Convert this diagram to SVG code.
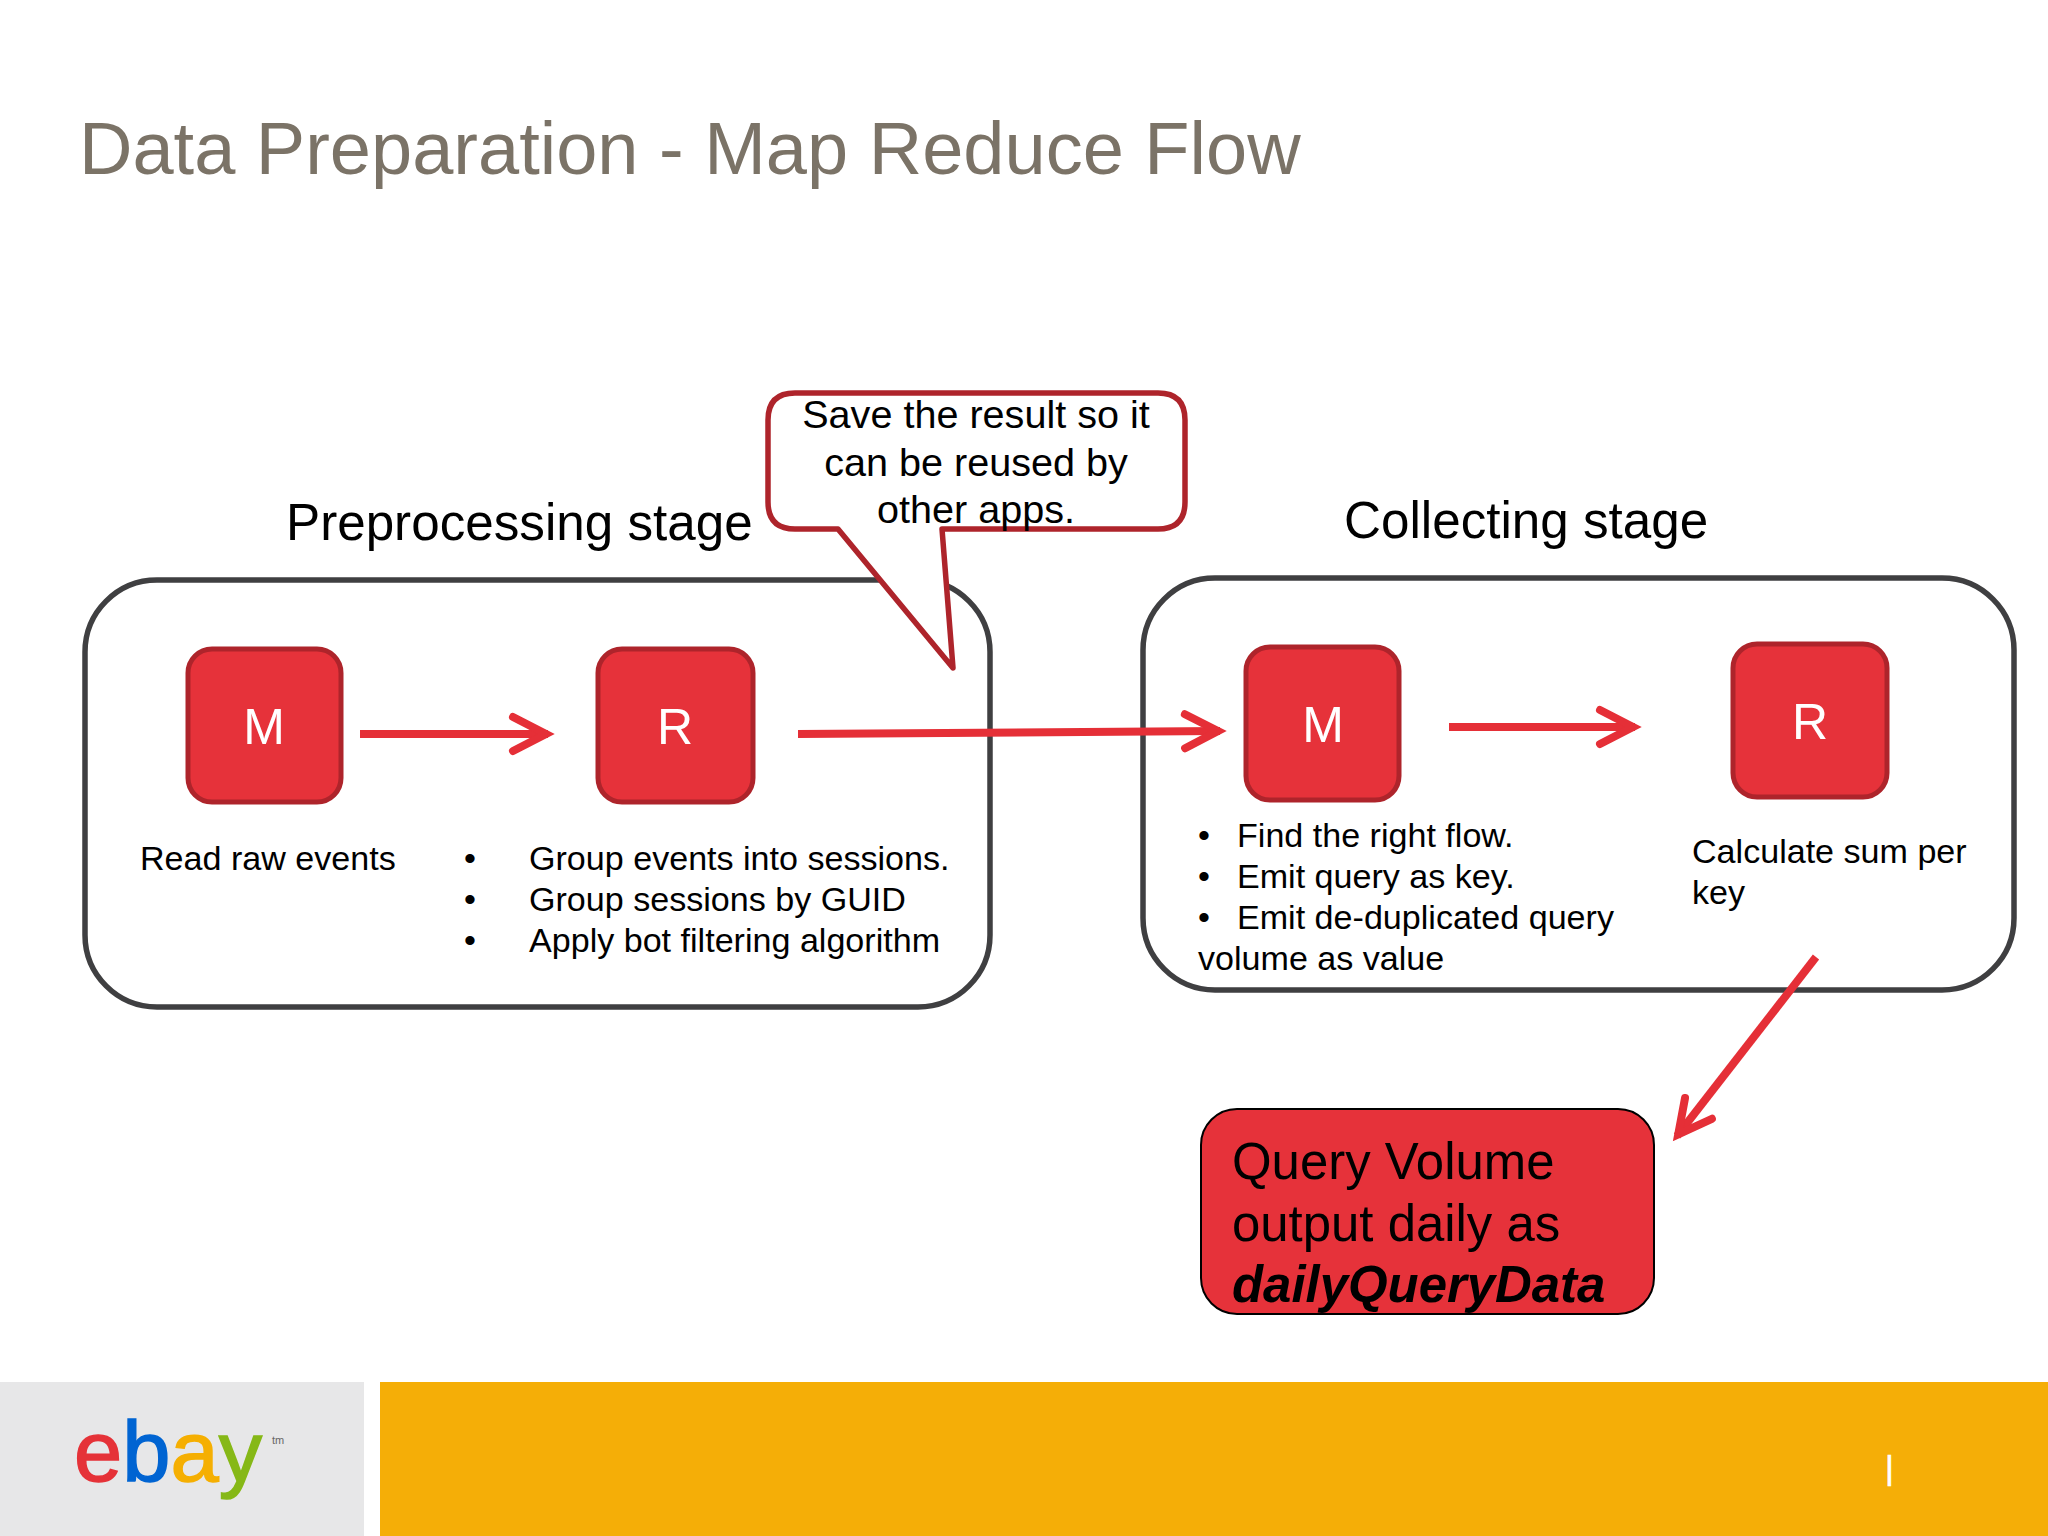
<svg xmlns="http://www.w3.org/2000/svg" width="2048" height="1536" viewBox="0 0 2048 1536">
<defs>
<style>
text{font-family:"Liberation Sans",Arial,sans-serif;fill:#000}
.stage{fill:#fff;stroke:#3f3f41;stroke-width:5.5}
.mr{fill:#e6323a;stroke:#ae242b;stroke-width:5}
.mrt{fill:#fff;font-size:50px;text-anchor:middle}
.s{font-size:34.1px}
.h{font-size:51.2px}
.c{font-size:39.6px;text-anchor:middle}
.q{font-size:50.9px}
.a{fill:none;stroke:#e52f37;stroke-width:8}
.ah{fill:none;stroke:#e52f37;stroke-width:8;stroke-linecap:round}
.logo{font-size:85px;stroke-width:1.5}
</style>
<marker id="head" markerUnits="userSpaceOnUse" viewBox="-50 -25 70 50" refX="-3" refY="0" markerWidth="70" markerHeight="50" orient="auto">
<path class="ah" d="M-38,-17 L-5,0 L-38,17"/>
</marker>
</defs>
<rect width="2048" height="1536" fill="#fff"/>
<text id="title" x="79" y="174" font-size="74" style="fill:#7b7367">Data Preparation - Map Reduce Flow</text>

<g id="preprocessing-box"><rect class="stage" x="85" y="580" width="905" height="427" rx="72"/></g>
<g id="collecting-box"><rect class="stage" x="1143" y="578" width="871" height="412" rx="72"/></g>

<g id="preprocessing-label"><text class="h" x="286" y="540">Preprocessing stage</text></g>
<g id="collecting-label"><text class="h" x="1344" y="538">Collecting stage</text></g>

<g id="callout">
<path d="M795,393 H1158 Q1185,393 1185,420 V502 Q1185,529 1158,529 H942 L953,668 L838,529 H795 Q768,529 768,502 V420 Q768,393 795,393 Z" fill="#fff" stroke="#ae242b" stroke-width="5.5" stroke-linejoin="round"/>
<text class="c" x="976" y="428">Save the result so it</text>
<text class="c" x="976" y="476">can be reused by</text>
<text class="c" x="976" y="523">other apps.</text>
</g>

<g id="m1"><rect class="mr" x="188" y="649" width="153" height="153" rx="24"/><text class="mrt" x="264" y="744">M</text></g>
<g id="r1"><rect class="mr" x="598" y="649" width="155" height="153" rx="24"/><text class="mrt" x="675" y="744">R</text></g>
<g id="m2"><rect class="mr" x="1246" y="647" width="153" height="153" rx="24"/><text class="mrt" x="1323" y="742">M</text></g>
<g id="r2"><rect class="mr" x="1733" y="644" width="154" height="153" rx="24"/><text class="mrt" x="1810" y="739">R</text></g>

<g id="connectors">
<path class="a" d="M360,734 H548" marker-end="url(#head)"/>
<path class="a" d="M798,734 L1220,731" marker-end="url(#head)"/>
<path class="a" d="M1449,727 H1635" marker-end="url(#head)"/>
<path class="a" d="M1816,957 L1677,1136" marker-end="url(#head)"/>
</g>

<g id="m1-text"><text class="s" x="140" y="870">Read raw events</text></g>
<g id="r1-text">
<text class="s" x="464" y="870">•</text><text class="s" x="529" y="870">Group events into sessions.</text>
<text class="s" x="464" y="911">•</text><text class="s" x="529" y="911">Group sessions by GUID</text>
<text class="s" x="464" y="952">•</text><text class="s" x="529" y="952">Apply bot filtering algorithm</text>
</g>
<g id="m2-text">
<text class="s" x="1198" y="847">•</text><text class="s" x="1237" y="847">Find the right flow.</text>
<text class="s" x="1198" y="888">•</text><text class="s" x="1237" y="888">Emit query as key.</text>
<text class="s" x="1198" y="929">•</text><text class="s" x="1237" y="929">Emit de-duplicated query</text>
<text class="s" x="1198" y="970">volume as value</text>
</g>
<g id="r2-text">
<text class="s" x="1692" y="863">Calculate sum per</text>
<text class="s" x="1692" y="904">key</text>
</g>

<g id="output">
<rect x="1201" y="1109" width="453" height="205" rx="36" fill="#e6323a" stroke="#000" stroke-width="2"/>
<text class="q" x="1232" y="1179">Query Volume</text>
<text class="q" x="1232" y="1241">output daily as</text>
<text class="q" x="1232" y="1302" font-weight="bold" font-style="italic">dailyQueryData</text>
</g>

<g id="footer">
<rect x="0" y="1382" width="364" height="154" fill="#e7e7e8"/>
<rect x="380" y="1382" width="1668" height="154" fill="#f5ae07"/>
<text x="1885" y="1479" font-size="34" style="fill:#fff;stroke:#fff;stroke-width:0.6">|</text>
<g id="ebay-logo">
<text class="logo" transform="translate(74,1481) scale(1.02,1)"><tspan style="fill:#e53238;stroke:#e53238">e</tspan><tspan style="fill:#0064d2;stroke:#0064d2">b</tspan><tspan style="fill:#f5af02;stroke:#f5af02">a</tspan><tspan style="fill:#86b817;stroke:#86b817">y</tspan></text>
<text x="272" y="1444" font-size="11" style="fill:#666">tm</text>
</g>
</g>
</svg>
